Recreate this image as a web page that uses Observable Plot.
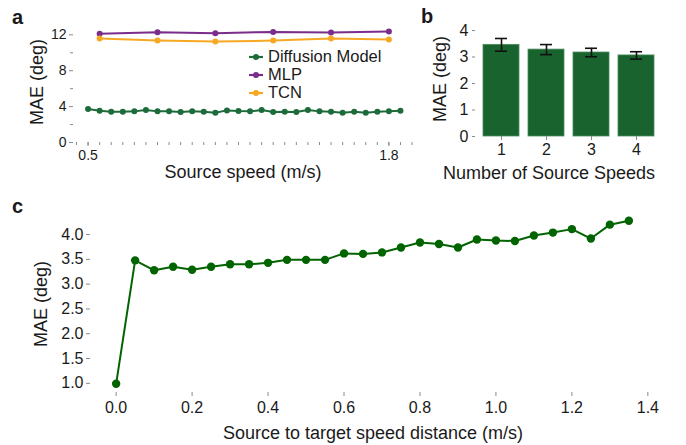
<!DOCTYPE html>
<html>
<head>
<meta charset="utf-8">
<script src="https://cdn.jsdelivr.net/npm/d3@7"></script>
<script src="https://cdn.jsdelivr.net/npm/@observablehq/plot@0.6"></script>
<style>
  html, body { margin: 0; padding: 0; background: #fff; }
  #page { position: relative; width: 686px; height: 445px; overflow: hidden; font-family: "Liberation Sans", Arial, sans-serif; color: #1a1a1a; }
  .panel { position: absolute; }
  .txt { position: absolute; white-space: nowrap; transform: translate(-50%, -50%); font-size: 18px; line-height: 1; }
  .rot { transform: translate(-50%, -50%) rotate(-90deg); }
  .lab { position: absolute; font-weight: bold; font-size: 20px; line-height: 1; }
  .leg { position: absolute; left: 248px; font-size: 16.5px; line-height: 1; display: flex; align-items: center; white-space: nowrap; }
  .leg svg { margin-right: 4px; }
</style>
</head>
<body>
<div id="page"></div>
<script>
// ---------------- DATA ----------------
// Panel a: MAE vs source speed
const aSpeeds = [0.50, 0.55, 0.60, 0.65, 0.70, 0.75, 0.80, 0.85, 0.90, 0.95, 1.00, 1.05, 1.10, 1.15,
                 1.20, 1.25, 1.30, 1.35, 1.40, 1.45, 1.50, 1.55, 1.60, 1.65, 1.70, 1.75, 1.80, 1.85];
const aDiffusion = [3.73, 3.54, 3.43, 3.43, 3.47, 3.62, 3.47, 3.47, 3.39, 3.47, 3.43, 3.32, 3.58, 3.50,
                    3.47, 3.62, 3.39, 3.43, 3.39, 3.62, 3.47, 3.43, 3.32, 3.43, 3.32, 3.43, 3.47, 3.54];
const aBaselineSpeeds = [0.55, 0.80, 1.05, 1.30, 1.55, 1.80];
const aMLP = [12.11, 12.29, 12.18, 12.33, 12.25, 12.37];
const aTCN = [11.59, 11.36, 11.25, 11.36, 11.59, 11.47];
const aXTicks = [0.5, 1.8];
const aYTicks = [0, 4, 8, 12];
const aSeriesNames = ["Diffusion Model", "MLP", "TCN"];

// Panel b: MAE vs number of source speeds
const bCounts = ["1", "2", "3", "4"];
const bMAE = [3.46, 3.28, 3.17, 3.06];
const bErr = [0.24, 0.19, 0.16, 0.14];
const bYTicks = [0, 1, 2, 3, 4];

// Panel c: MAE vs source-to-target speed distance
const cDistance = [0.00, 0.05, 0.10, 0.15, 0.20, 0.25, 0.30, 0.35, 0.40, 0.45, 0.50, 0.55, 0.60, 0.65,
                   0.70, 0.75, 0.80, 0.85, 0.90, 0.95, 1.00, 1.05, 1.10, 1.15, 1.20, 1.25, 1.30, 1.35];
const cMAE = [0.99, 3.48, 3.28, 3.35, 3.29, 3.35, 3.40, 3.40, 3.43, 3.49, 3.49, 3.49, 3.62, 3.61,
              3.64, 3.74, 3.84, 3.81, 3.74, 3.90, 3.88, 3.87, 3.98, 4.04, 4.11, 3.92, 4.20, 4.28];
const cXTicks = [0.0, 0.2, 0.4, 0.6, 0.8, 1.0, 1.2, 1.4];
const cYTicks = [1.0, 1.5, 2.0, 2.5, 3.0, 3.5, 4.0];

// ---------------- STYLE ----------------
const FONT = '"Liberation Sans", Arial, sans-serif';
const AX = "#8a8a8a";
const TXT = "#1a1a1a";
const cGreenA = "#1d6b3b", cPurple = "#7b2d8c", cOrange = "#f7a823";
const cBar = "#19632f", cGreenC = "#016401";
const blank = () => "";

const page = document.getElementById("page");
function place(el, left, top) {
  const d = document.createElement("div");
  d.className = "panel"; d.style.left = left + "px"; d.style.top = top + "px";
  d.appendChild(el); page.appendChild(d);
}
function text(str, x, y, cls = "txt") {
  const d = document.createElement("div");
  d.className = cls; d.textContent = str;
  d.style.left = x + "px"; d.style.top = y + "px";
  page.appendChild(d);
}

// ---------------- PANEL A ----------------
const aDiffData = aSpeeds.map((s, i) => ({s, v: aDiffusion[i]}));
const aMLPData = aBaselineSpeeds.map((s, i) => ({s, v: aMLP[i]}));
const aTCNData = aBaselineSpeeds.map((s, i) => ({s, v: aTCN[i]}));
const aMinorX = d3.range(9, 39).map(k => k * 0.05);
const aMinorY = [2, 6, 10];

const plotA = Plot.plot({
  width: 420, height: 190,
  marginLeft: 73, marginRight: 5, marginTop: 26, marginBottom: 48,
  style: {fontFamily: FONT, color: TXT, background: "transparent", overflow: "visible"},
  x: {domain: [0.437, 1.915], label: null},
  y: {domain: [0, 12.93], label: null},
  marks: [
    Plot.axisX({ticks: aMinorX, tickSize: 3, tickFormat: blank, stroke: AX, line: true, label: null}),
    Plot.axisX({ticks: aXTicks, tickSize: 4, tickPadding: 4, fontSize: 14, stroke: AX, tickFormat: ".1f", label: null}),
    Plot.axisY({ticks: aMinorY, tickSize: 3, tickFormat: blank, stroke: AX, line: true, label: null}),
    Plot.axisY({ticks: aYTicks, tickSize: 4, tickPadding: 3, fontSize: 14, stroke: AX, tickFormat: "d", label: null}),
    Plot.line(aMLPData, {x: "s", y: "v", stroke: cPurple, strokeWidth: 2}),
    Plot.dot(aMLPData, {x: "s", y: "v", r: 3, fill: cPurple}),
    Plot.line(aTCNData, {x: "s", y: "v", stroke: cOrange, strokeWidth: 2}),
    Plot.dot(aTCNData, {x: "s", y: "v", r: 3, fill: cOrange}),
    Plot.line(aDiffData, {x: "s", y: "v", stroke: cGreenA, strokeWidth: 2}),
    Plot.dot(aDiffData, {x: "s", y: "v", r: 3, fill: cGreenA})
  ]
});
place(plotA, 0, 0);

// ---------------- PANEL B ----------------
const bData = bCounts.map((n, i) => ({n, v: bMAE[i], lo: bMAE[i] - bErr[i], hi: bMAE[i] + bErr[i]}));
const plotB = Plot.plot({
  width: 266, height: 190,
  marginLeft: 55, marginRight: 24, marginTop: 25, marginBottom: 54,
  style: {fontFamily: FONT, color: TXT, background: "transparent", overflow: "visible"},
  x: {type: "band", domain: bCounts, paddingInner: 0.2, paddingOuter: 0.165, label: null},
  y: {domain: [0, 4.19], label: null},
  marks: [
    Plot.barY(bData, {x: "n", y: "v", fill: cBar, stroke: "#4c8a5f", strokeWidth: 0.8}),
    Plot.ruleX(bData, {x: "n", y1: "lo", y2: "hi", stroke: "#111", strokeWidth: 1.6}),
    Plot.tickY(bData, {x: "n", y: "lo", stroke: "#111", strokeWidth: 1.6, insetLeft: 12, insetRight: 12}),
    Plot.tickY(bData, {x: "n", y: "hi", stroke: "#111", strokeWidth: 1.6, insetLeft: 12, insetRight: 12}),
    Plot.axisX({tickSize: 4, tickPadding: 3, fontSize: 16, stroke: AX, line: true, label: null}),
    Plot.axisY({ticks: bYTicks, tickSize: 3, tickPadding: 4, fontSize: 16, stroke: AX, line: true, tickFormat: "d", label: null})
  ]
});
place(plotB, 420, 0);

// ---------------- PANEL C ----------------
const cData = cDistance.map((d, i) => ({d, v: cMAE[i]}));
const plotC = Plot.plot({
  width: 686, height: 255,
  marginLeft: 90, marginRight: 32, marginTop: 22, marginBottom: 53,
  style: {fontFamily: FONT, color: TXT, background: "transparent", overflow: "visible"},
  x: {domain: [-0.0675, 1.4175], label: null},
  y: {domain: [0.815, 4.445], label: null},
  marks: [
    Plot.axisX({ticks: cXTicks, tickSize: 4, tickPadding: 5, fontSize: 16, stroke: AX, line: true, tickFormat: ".1f", label: null}),
    Plot.axisY({ticks: cYTicks, tickSize: 4, tickPadding: 3, fontSize: 16, stroke: AX, line: true, tickFormat: ".1f", label: null}),
    Plot.line(cData, {x: "d", y: "v", stroke: cGreenC, strokeWidth: 2}),
    Plot.dot(cData, {x: "d", y: "v", r: 4.2, fill: cGreenC})
  ]
});
place(plotC, 0, 190);

// ---------------- TEXT ----------------
text("a", 12, 7, "lab");
text("b", 421, 6, "lab");
text("c", 12, 196, "lab");

text("Source speed (m/s)", 243, 172);
text("MAE (deg)", 37, 82, "txt rot");
text("Number of Source Speeds", 549, 173);
text("MAE (deg)", 440, 79, "txt rot");
text("Source to target speed distance (m/s)", 373, 433);
text("MAE (deg)", 41, 304, "txt rot");

// Legend for panel a
const legColors = [cGreenA, cPurple, cOrange];
const legY = [56.5, 74.5, 92.5];
aSeriesNames.forEach((name, i) => {
  const row = document.createElement("div");
  row.className = "leg";
  row.style.top = (legY[i] - 9) + "px";
  row.style.height = "18px";
  row.innerHTML = `<svg width="16" height="10"><line x1="1" y1="5" x2="15" y2="5" stroke="${legColors[i]}" stroke-width="2.2"/><circle cx="8" cy="5" r="3" fill="${legColors[i]}"/></svg><span>${name}</span>`;
  page.appendChild(row);
});
</script>
</body>
</html>
